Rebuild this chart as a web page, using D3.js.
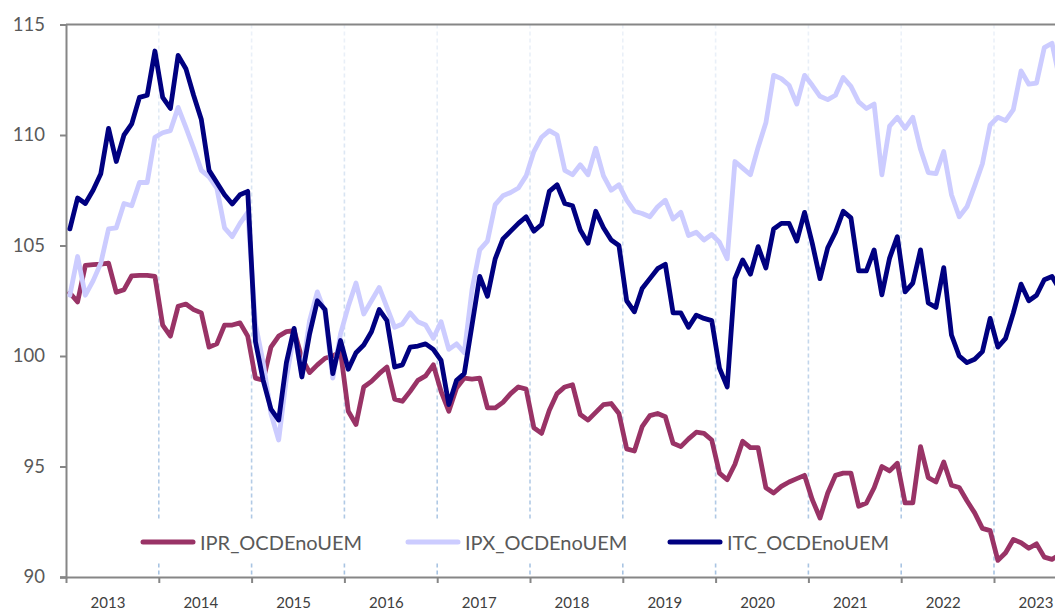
<!DOCTYPE html>
<html>
<head>
<meta charset="utf-8">
<script src="https://cdn.jsdelivr.net/npm/d3@7"></script>
<style>
  html, body { margin: 0; padding: 0; background: #fff; }
  svg { display: block; }
  text { font-family: Lato, "Open Sans", sans-serif; }
</style>
</head>
<body>
<svg id="chart" width="1055" height="612"></svg>
<script>
// ---- data (monthly, Jan 2013 onwards) ----
const years = [2013, 2014, 2015, 2016, 2017, 2018, 2019, 2020, 2021, 2022, 2023];
const yTicks = [90, 95, 100, 105, 110, 115];
const seriesNames = ["IPR_OCDEnoUEM", "IPX_OCDEnoUEM", "ITC_OCDEnoUEM"];

const ipr = [102.85,102.45,104.1,104.13,104.16,104.2,102.88,103.0,103.63,103.65,103.65,103.6,
  101.4,100.9,102.25,102.35,102.1,101.95,100.4,100.55,101.4,101.4,101.5,100.9,
  99.0,98.9,100.4,100.9,101.1,101.15,99.9,99.25,99.6,99.9,100.0,100.2,
  97.5,96.9,98.6,98.85,99.2,99.5,98.05,97.95,98.4,98.9,99.1,99.6,
  98.4,97.5,98.55,99.0,98.95,99.0,97.65,97.65,97.9,98.3,98.6,98.5,
  96.75,96.5,97.55,98.3,98.6,98.7,97.35,97.1,97.45,97.8,97.85,97.4,
  95.8,95.7,96.8,97.3,97.4,97.25,96.05,95.9,96.25,96.55,96.5,96.2,
  94.7,94.4,95.1,96.14,95.85,95.85,94.04,93.8,94.1,94.3,94.45,94.6,
  93.5,92.67,93.8,94.6,94.7,94.7,93.2,93.35,94.04,95.0,94.8,95.15,
  93.35,93.35,95.9,94.5,94.3,95.2,94.15,94.05,93.45,92.9,92.2,92.1,
  90.75,91.1,91.7,91.55,91.3,91.5,90.9,90.8,91.0];

const ipx = [102.75,104.5,102.75,103.4,104.2,105.75,105.8,106.9,106.8,107.85,107.85,109.9,
  110.1,110.2,111.25,110.35,109.4,108.4,108.1,107.6,105.8,105.4,106.0,106.5,
  101.45,99.7,97.4,96.2,99.0,101.0,99.2,101.6,102.9,101.95,99.0,101.0,
  102.25,103.3,101.9,102.5,103.1,102.2,101.3,101.45,101.95,101.55,101.4,100.8,
  101.55,100.3,100.55,100.15,103.0,104.8,105.2,106.85,107.25,107.4,107.6,108.15,
  109.25,109.9,110.2,110.0,108.4,108.2,108.65,108.2,109.4,108.15,107.5,107.75,
  107.05,106.55,106.45,106.3,106.75,107.05,106.2,106.5,105.45,105.6,105.25,105.5,
  105.15,104.4,108.8,108.5,108.2,109.45,110.55,112.7,112.55,112.25,111.4,112.7,
  112.25,111.75,111.6,111.8,112.6,112.2,111.5,111.2,111.4,108.2,110.4,110.8,
  110.3,110.8,109.35,108.3,108.25,109.25,107.3,106.3,106.75,107.7,108.7,110.45,
  110.8,110.65,111.15,112.9,112.3,112.35,113.95,114.15,112.5];

const itc = [105.75,107.15,106.9,107.5,108.25,110.3,108.8,110.0,110.5,111.7,111.8,113.8,
  111.7,111.2,113.6,113.0,111.8,110.7,108.4,107.85,107.3,106.88,107.3,107.45,
  100.65,98.9,97.6,97.1,99.7,101.25,99.05,101.0,102.5,102.1,99.2,100.7,
  99.4,100.15,100.5,101.1,102.1,101.6,99.5,99.6,100.4,100.45,100.55,100.3,
  99.8,97.8,98.9,99.2,101.4,103.6,102.7,104.4,105.3,105.65,106.0,106.3,
  105.65,105.95,107.45,107.75,106.9,106.8,105.7,105.1,106.55,105.8,105.25,105.0,
  102.5,102.0,103.05,103.5,103.95,104.15,101.95,101.95,101.3,101.85,101.7,101.6,
  99.45,98.6,103.5,104.35,103.7,104.95,103.98,105.75,106.0,106.0,105.2,106.5,
  105.1,103.5,104.9,105.6,106.55,106.25,103.85,103.85,104.8,102.77,104.43,105.4,
  102.9,103.3,104.8,102.4,102.2,104.0,100.95,100.0,99.7,99.85,100.2,101.7,
  100.4,100.8,101.95,103.25,102.5,102.75,103.45,103.6,103.0];

const colors = ["#993366", "#ccccff", "#000080"];

// ---- layout ----
const W = 1055, H = 612;
const plotLeft = 66, plotTop = 24.5, plotBottom = 577;
const yearW = 92.8;
const svg = d3.select("#chart");

const x = d3.scaleLinear().domain([0, years.length * 12]).range([plotLeft, plotLeft + years.length * yearW]);
const y = d3.scaleLinear().domain([90, 115]).range([plotBottom, plotTop]);

const defs = svg.append("defs");
const grad = defs.append("linearGradient").attr("id", "vg")
  .attr("gradientUnits", "userSpaceOnUse")
  .attr("x1", 0).attr("y1", plotTop).attr("x2", 0).attr("y2", plotBottom);
grad.append("stop").attr("offset", "0%").attr("stop-color", "#edf2f9");
grad.append("stop").attr("offset", "100%").attr("stop-color", "#a7c3e2");

svg.append("rect").attr("width", W).attr("height", H).attr("fill", "#fff");

// vertical dashed year separators
const bounds = years.slice(1).map((d, k) => (k + 1) * 12);
svg.append("g").selectAll("line").data(bounds).join("line")
  .attr("x1", d => x(d)).attr("x2", d => x(d))
  .attr("y1", plotTop).attr("y2", plotBottom)
  .attr("stroke", "url(#vg)").attr("stroke-width", 1.6)
  .attr("stroke-dasharray", "4,3");

// legend background (covers gridlines)
svg.append("rect").attr("x", 135).attr("y", 520).attr("width", 825).attr("height", 43).attr("fill", "#fff");

// top gridline (115)
svg.append("line").attr("x1", plotLeft).attr("x2", W).attr("y1", y(115)).attr("y2", y(115))
  .attr("stroke", "#868686").attr("stroke-width", 2);

// y axis
const yAxis = svg.append("g").attr("transform", `translate(${plotLeft},0)`)
  .call(d3.axisLeft(y).tickValues(yTicks).tickSize(6).tickPadding(15).tickFormat(d3.format("d")));
yAxis.select(".domain").attr("stroke", "#868686").attr("stroke-width", 2);
yAxis.selectAll(".tick line").attr("stroke", "#868686").attr("stroke-width", 2);
yAxis.selectAll(".tick text").attr("fill", "#595959").style("font-size", "18.5px")
  .style("font-family", "Lato, sans-serif");

// x axis
const xAxis = svg.append("g").attr("transform", `translate(0,${plotBottom})`)
  .call(d3.axisBottom(x).tickValues([0].concat(bounds).concat([years.length * 12])).tickSize(6).tickFormat(""));
xAxis.select(".domain").attr("stroke", "#868686").attr("stroke-width", 2).attr("d", `M${plotLeft - 6},0.5H${W}`);
xAxis.selectAll(".tick line").attr("stroke", "#868686").attr("stroke-width", 2);

svg.append("g").selectAll("text").data(years).join("text")
  .attr("x", (d, k) => x(k * 12) + 42)
  .attr("y", 608)
  .attr("text-anchor", "middle")
  .attr("fill", "#404040")
  .style("font-size", "15px")
  .text(d => d);

// series
const line = d3.line().x((d, k) => x(k + 0.5)).y(d => y(d)).curve(d3.curveLinear);
const seriesData = [ipr, ipx, itc];
svg.append("g").selectAll("path").data(seriesData).join("path")
  .attr("d", d => line(d))
  .attr("fill", "none")
  .attr("stroke", (d, k) => colors[k])
  .attr("stroke-width", 4.8)
  .attr("stroke-linejoin", "round")
  .attr("stroke-linecap", "round");

// legend
const legX = [143, 408, 670];
const leg = svg.append("g").selectAll("g").data(seriesNames).join("g")
  .attr("transform", (d, k) => `translate(${legX[k]},542)`);
leg.append("line").attr("x1", 0).attr("x2", 50).attr("y1", 0).attr("y2", 0)
  .attr("stroke", (d, k) => colors[k]).attr("stroke-width", 5).attr("stroke-linecap", "round");
leg.append("text").attr("x", 57).attr("y", 8)
  .attr("fill", "#595959").style("font-size", "20px").text(d => d);
</script>
</body>
</html>
